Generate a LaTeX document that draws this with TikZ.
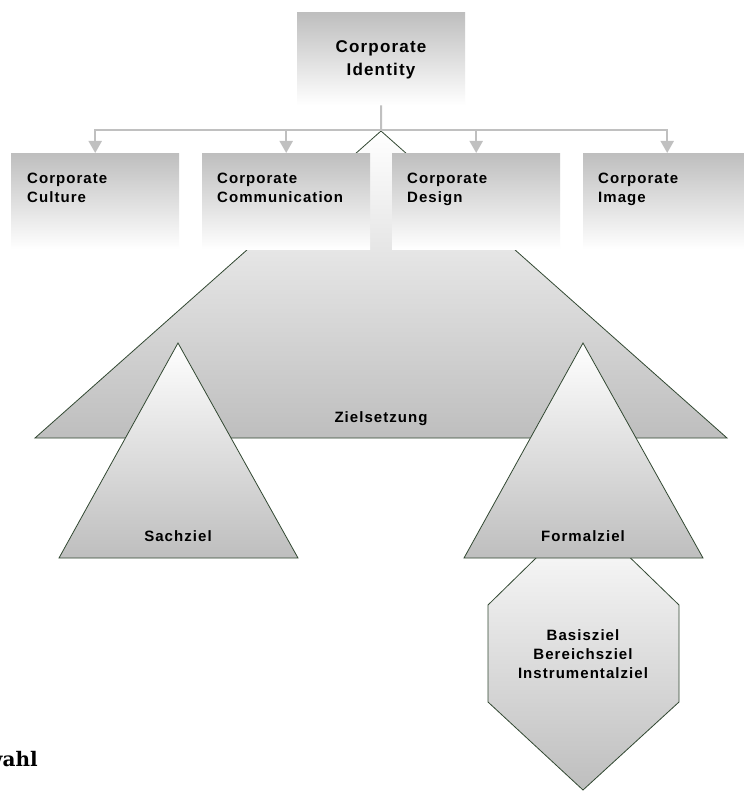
\documentclass[tikz,border=0pt]{standalone}
\usepackage{fontspec}
\newfontfamily\labfont[LetterSpace=7]{Liberation Sans}
\newfontfamily\slabfont{DejaVu Serif}
\usetikzlibrary{arrows.meta,calc}
\definecolor{boxgray}{RGB}{190,190,190}
\definecolor{edgecol}{RGB}{50,72,50}
\definecolor{conngray}{RGB}{192,192,192}
\begin{document}
\begin{tikzpicture}[x=1pt,y=-1pt,
  cbox/.style={rectangle, minimum width=168pt, minimum height=96pt, inner sep=0pt,
    anchor=north west, top color=boxgray, bottom color=white, draw=none},
  topbox/.style={cbox, minimum height=93pt},
  boxtext/.style={font=\labfont\bfseries\fontsize{15}{18.3}\selectfont, align=left,
    anchor=base west, inner sep=0pt},
  toptext/.style={font=\labfont\bfseries\fontsize{17}{23.7}\selectfont, align=center,
    anchor=base, inner sep=0pt},
  shapetext/.style={font=\labfont\bfseries\fontsize{15}{19}\selectfont, align=center,
    anchor=base, inner sep=0pt},
  goalshape/.style={draw=edgecol, line width=0.8pt, line join=miter,
    top color=white, bottom color=boxgray},
  conn/.style={draw=conngray, line width=2pt},
  connarrow/.style={conn, -{Triangle[width=13pt,length=12pt]}},
  slab/.style={font=\slabfont\bfseries\fontsize{20}{24}\selectfont, inner sep=0pt}
]
\useasboundingbox (0,0) rectangle (743,791);
\fill[white] (0,0) rectangle (743,791);

% big Zielsetzung triangle (mostly hidden by the boxes)
\path[goalshape] (381,131) -- (727,438) -- (35,438) -- cycle;

% boxes
\node[topbox] (ci) at (297,12) {};
\node[cbox] (cul) at (11,153) {};
\node[cbox] (com) at (202,153) {};
\node[cbox] (des) at (392,153) {};
\node[cbox] (img) at (583,153) {};

% connectors
\coordinate (j) at (381,130);
\draw[conn] (ci.south) -- (j);
\draw[connarrow] (j) -| (cul.north);
\draw[connarrow] (j) -| (com.north);
\draw[connarrow] (j) -| (des.north);
\draw[connarrow] (j) -| (img.north);

% hexagon behind Formalziel
\path[goalshape] (583,512) -- (679,605) -- (679,702) -- (583,790) -- (488,702) -- (488,605) -- cycle;
% Formalziel and Sachziel triangles
\path[goalshape] (583,343) -- (703,558) -- (464,558) -- cycle;
\path[goalshape] (178,343) -- (298,558) -- (59,558) -- cycle;

% texts (base anchor = baseline of the last line)
\node[toptext] (citxt) at (381,76) {Corporate\\Identity};
\node[boxtext] (cultxt) at ($(cul.north west)+(16,49.3)$) {Corporate\\Culture};
\node[boxtext] (comtxt) at ($(com.north west)+(15,49.3)$) {Corporate\\Communication};
\node[boxtext] (destxt) at ($(des.north west)+(15,49.3)$) {Corporate\\Design};
\node[boxtext] (imgtxt) at ($(img.north west)+(15,49.3)$) {Corporate\\Image};
\node[shapetext] (ziel) at (381,422) {Zielsetzung};
\node[shapetext] (sach) at (178,541) {Sachziel};
\node[shapetext] (form) at (583,541) {Formalziel};
\node[shapetext] (hex) at (583,678) {Basisziel\\Bereichsziel\\Instrumentalziel};
\node[slab, anchor=base east] (wahl) at (38,766) {wahl};
\end{tikzpicture}
\end{document}
